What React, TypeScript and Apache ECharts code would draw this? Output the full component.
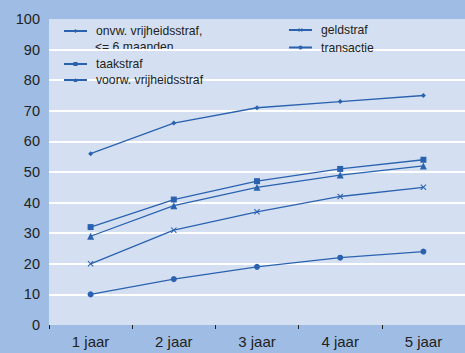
import React, { useEffect, useRef } from "react";
import * as echarts from "echarts";

const categories = ["1 jaar", "2 jaar", "3 jaar", "4 jaar", "5 jaar"];
const onvw = [56, 66, 71, 73, 75];
const taakstraf = [32, 41, 47, 51, 54];
const voorw = [29, 39, 45, 49, 52];
const geldstraf = [20, 31, 37, 42, 45];
const transactie = [10, 15, 19, 22, 24];

const names = ["onvw. vrijheidsstraf,", "taakstraf", "voorw. vrijheidsstraf", "geldstraf", "transactie"];

const LINE = "#2b62b0";
const FONT = "Liberation Sans";
const CROSS = "path://M0,1.2L1.2,0L5,3.8L8.8,0L10,1.2L6.2,5L10,8.8L8.8,10L5,6.2L1.2,10L0,8.8L3.8,5Z";

export default function App() {
  const ref = useRef<HTMLDivElement>(null);
  useEffect(() => {
    const chart = echarts.init(ref.current!, null, { renderer: "svg" });
    const mk = (name: string, data: number[], symbol: string, size: number) => ({
      name,
      type: "line",
      data,
      symbol,
      symbolSize: size,
      showSymbol: true,
      lineStyle: { color: LINE, width: 1.3 },
      itemStyle: { color: LINE },
    });
    const splitColors = ["rgba(0,0,0,0)"];
    for (let i = 1; i < 10; i++) splitColors.push("#ffffff");
    splitColors.push("rgba(0,0,0,0)");
    const legendBase = {
      orient: "vertical",
      itemWidth: 23,
      itemHeight: 5,
      padding: 0,
      textStyle: { fontFamily: FONT, fontSize: 12.2, color: "#222", lineHeight: 16, padding: [0, 0, 0, 4] },
      selectedMode: false,
    };
    chart.setOption({
      animation: false,
      backgroundColor: "#9fbde4",
      grid: {
        left: 49,
        right: -8.5,
        top: 19,
        bottom: 28,
        show: true,
        backgroundColor: "#d4e0f1",
        borderWidth: 0,
      },
      legend: [
        { ...legendBase, data: [names[0]], left: 63, top: 23, itemGap: 0 },
        { ...legendBase, data: [names[1], names[2]], left: 63, top: 56, itemGap: 0 },
        { ...legendBase, data: [names[3], names[4]], left: 288, top: 22, itemGap: 1.5 },
      ],
      graphic: [
        {
          type: "text",
          left: 95,
          top: 40.5,
          style: { text: "<= 6 maanden", fontFamily: FONT, fontSize: 12.2, fill: "#222" },
        },
      ],
      xAxis: {
        type: "category",
        data: categories,
        boundaryGap: true,
        axisLine: { show: false },
        axisTick: { show: true, length: 4, lineStyle: { color: "#222", width: 1 } },
        axisLabel: { fontFamily: FONT, fontSize: 15, color: "#222", margin: 9 },
        splitLine: { show: false },
      },
      yAxis: {
        type: "value",
        min: 0,
        max: 100,
        interval: 10,
        axisLine: { show: false },
        axisTick: { show: false },
        axisLabel: { fontFamily: FONT, fontSize: 14.5, color: "#222", margin: 9 },
        splitLine: { show: true, lineStyle: { color: splitColors, width: 2 } },
      },
      series: [
        mk(names[0], onvw, "diamond", 5),
        mk(names[1], taakstraf, "rect", 6),
        mk(names[2], voorw, "triangle", 7),
        mk(names[3], geldstraf, CROSS, 6),
        mk(names[4], transactie, "circle", 6),
      ],
    });
    return () => chart.dispose();
  }, []);
  return <div ref={ref} style={{ width: 465, height: 353, position: "absolute", left: 0, top: 0 }} />;
}
